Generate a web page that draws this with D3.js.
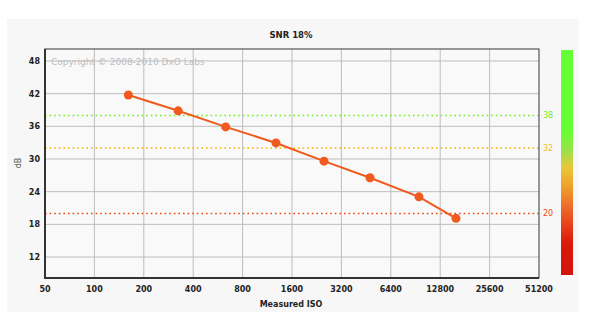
<!DOCTYPE html>
<html><head><meta charset="utf-8">
<script src="https://cdn.jsdelivr.net/npm/d3@7"></script>
<style>body{margin:0;background:#fff}svg{display:block}</style>
</head><body>
<script>
const isoValues = [161, 324, 631, 1278, 2507, 4780, 9505, 15980];
const snrValues = [41.75, 38.85, 35.9, 32.95, 29.6, 26.55, 23.05, 19.1];
const xTicks = [50, 100, 200, 400, 800, 1600, 3200, 6400, 12800, 25600, 51200];
const yTicks = [12, 18, 24, 30, 36, 42, 48];
const thresholds = [38, 32, 20];
const thresholdColors = ["#6ef020", "#f2bd1e", "#f04812"];

const W = 600, H = 329;
const svg = d3.select("body").append("svg").attr("width", W).attr("height", H);
const L = 45, R = 539, T = 49, B = 278;
const x = d3.scaleLog().base(2).domain([50, 51200]).range([L, R]);
const y = d3.scaleLinear().domain([8.15, 50.2]).range([B, T]);
const font = "DejaVu Sans, Verdana, sans-serif";

svg.append("rect").attr("x", 7).attr("y", 19).attr("width", 572).attr("height", 293).attr("fill", "#f7f7f7");
svg.append("rect").attr("x", L).attr("y", T).attr("width", R - L).attr("height", B - T).attr("fill", "#f9f9f9");

// grid
const g = svg.append("g");
g.selectAll("line.v").data(xTicks.slice(1, -1)).join("line")
  .attr("x1", d => x(d)).attr("x2", d => x(d)).attr("y1", T).attr("y2", B)
  .attr("stroke", "#bdbdbd").attr("stroke-width", 1);
g.selectAll("line.h").data(yTicks).join("line")
  .attr("x1", L).attr("x2", R).attr("y1", d => y(d)).attr("y2", d => y(d))
  .attr("stroke", "#bdbdbd").attr("stroke-width", 1);

// copyright
svg.append("text").attr("x", 51).attr("y", 65).attr("font-family", font).attr("font-size", 9)
  .attr("fill", "#bcbcbc").text("Copyright © 2008-2010 DxO Labs");

// thresholds
thresholds.forEach((t, i) => {
  svg.append("line").attr("x1", L).attr("x2", R + 3).attr("y1", y(t)).attr("y2", y(t))
    .attr("stroke", thresholdColors[i]).attr("stroke-width", 1.6).attr("stroke-dasharray", "1.6,3");
  svg.append("text").attr("x", 543).attr("y", y(t) + 3).attr("font-family", font).attr("font-size", 8)
    .attr("fill", thresholdColors[i]).text(t);
});

// frame
svg.append("rect").attr("x", L).attr("y", T).attr("width", R - L).attr("height", B - T)
  .attr("fill", "none").attr("stroke", "#555").attr("stroke-width", 1.2);
svg.append("line").attr("x1", L).attr("x2", L).attr("y1", T).attr("y2", B + 1).attr("stroke", "#333").attr("stroke-width", 2);
svg.append("line").attr("x1", L - 1).attr("x2", R).attr("y1", B).attr("y2", B).attr("stroke", "#333").attr("stroke-width", 2);

// axes labels
svg.selectAll("text.xt").data(xTicks).join("text")
  .attr("x", d => x(d)).attr("y", 292).attr("text-anchor", "middle")
  .attr("font-family", font).attr("font-size", 8).attr("font-weight", "bold").attr("fill", "#222")
  .text(d => d);
svg.selectAll("text.yt").data(yTicks).join("text")
  .attr("x", 40).attr("y", d => y(d) + 3).attr("text-anchor", "end")
  .attr("font-family", font).attr("font-size", 8).attr("font-weight", "bold").attr("fill", "#222")
  .text(d => d);
svg.append("text").attr("x", 291).attr("y", 307).attr("text-anchor", "middle")
  .attr("font-family", font).attr("font-size", 8).attr("font-weight", "bold").attr("fill", "#222").text("Measured ISO");
svg.append("text").attr("transform", "translate(21,163) rotate(-90)").attr("text-anchor", "middle")
  .attr("font-family", font).attr("font-size", 8).attr("fill", "#555").text("dB");
svg.append("text").attr("x", 291).attr("y", 38).attr("text-anchor", "middle")
  .attr("font-family", font).attr("font-size", 8.5).attr("font-weight", "bold").attr("fill", "#222").text("SNR 18%");

// color bar
const defs = svg.append("defs");
const grad = defs.append("linearGradient").attr("id", "cb").attr("x1", 0).attr("x2", 0).attr("y1", 0).attr("y2", 1);
[[0, "#66ff33"], [0.36, "#66ff33"], [0.45, "#9be04a"], [0.52, "#e8c83a"], [0.6, "#f0a42a"], [0.7, "#ec6a2a"], [0.78, "#e8401a"], [0.86, "#d8180c"], [1, "#d4140a"]]
  .forEach(s => grad.append("stop").attr("offset", s[0]).attr("stop-color", s[1]));
svg.append("rect").attr("x", 561).attr("y", 50).attr("width", 12).attr("height", 225).attr("fill", "url(#cb)");

// line + points
const data = isoValues.map((v, i) => ({iso: v, snr: snrValues[i]}));
svg.append("path").datum(data)
  .attr("d", d3.line().x(d => x(d.iso)).y(d => y(d.snr)))
  .attr("fill", "none").attr("stroke", "#f05a1e").attr("stroke-width", 2);
svg.selectAll("circle.p").data(data).join("circle")
  .attr("cx", d => x(d.iso)).attr("cy", d => y(d.snr)).attr("r", 4.5).attr("fill", "#f05a1e");
</script>
</body></html>
